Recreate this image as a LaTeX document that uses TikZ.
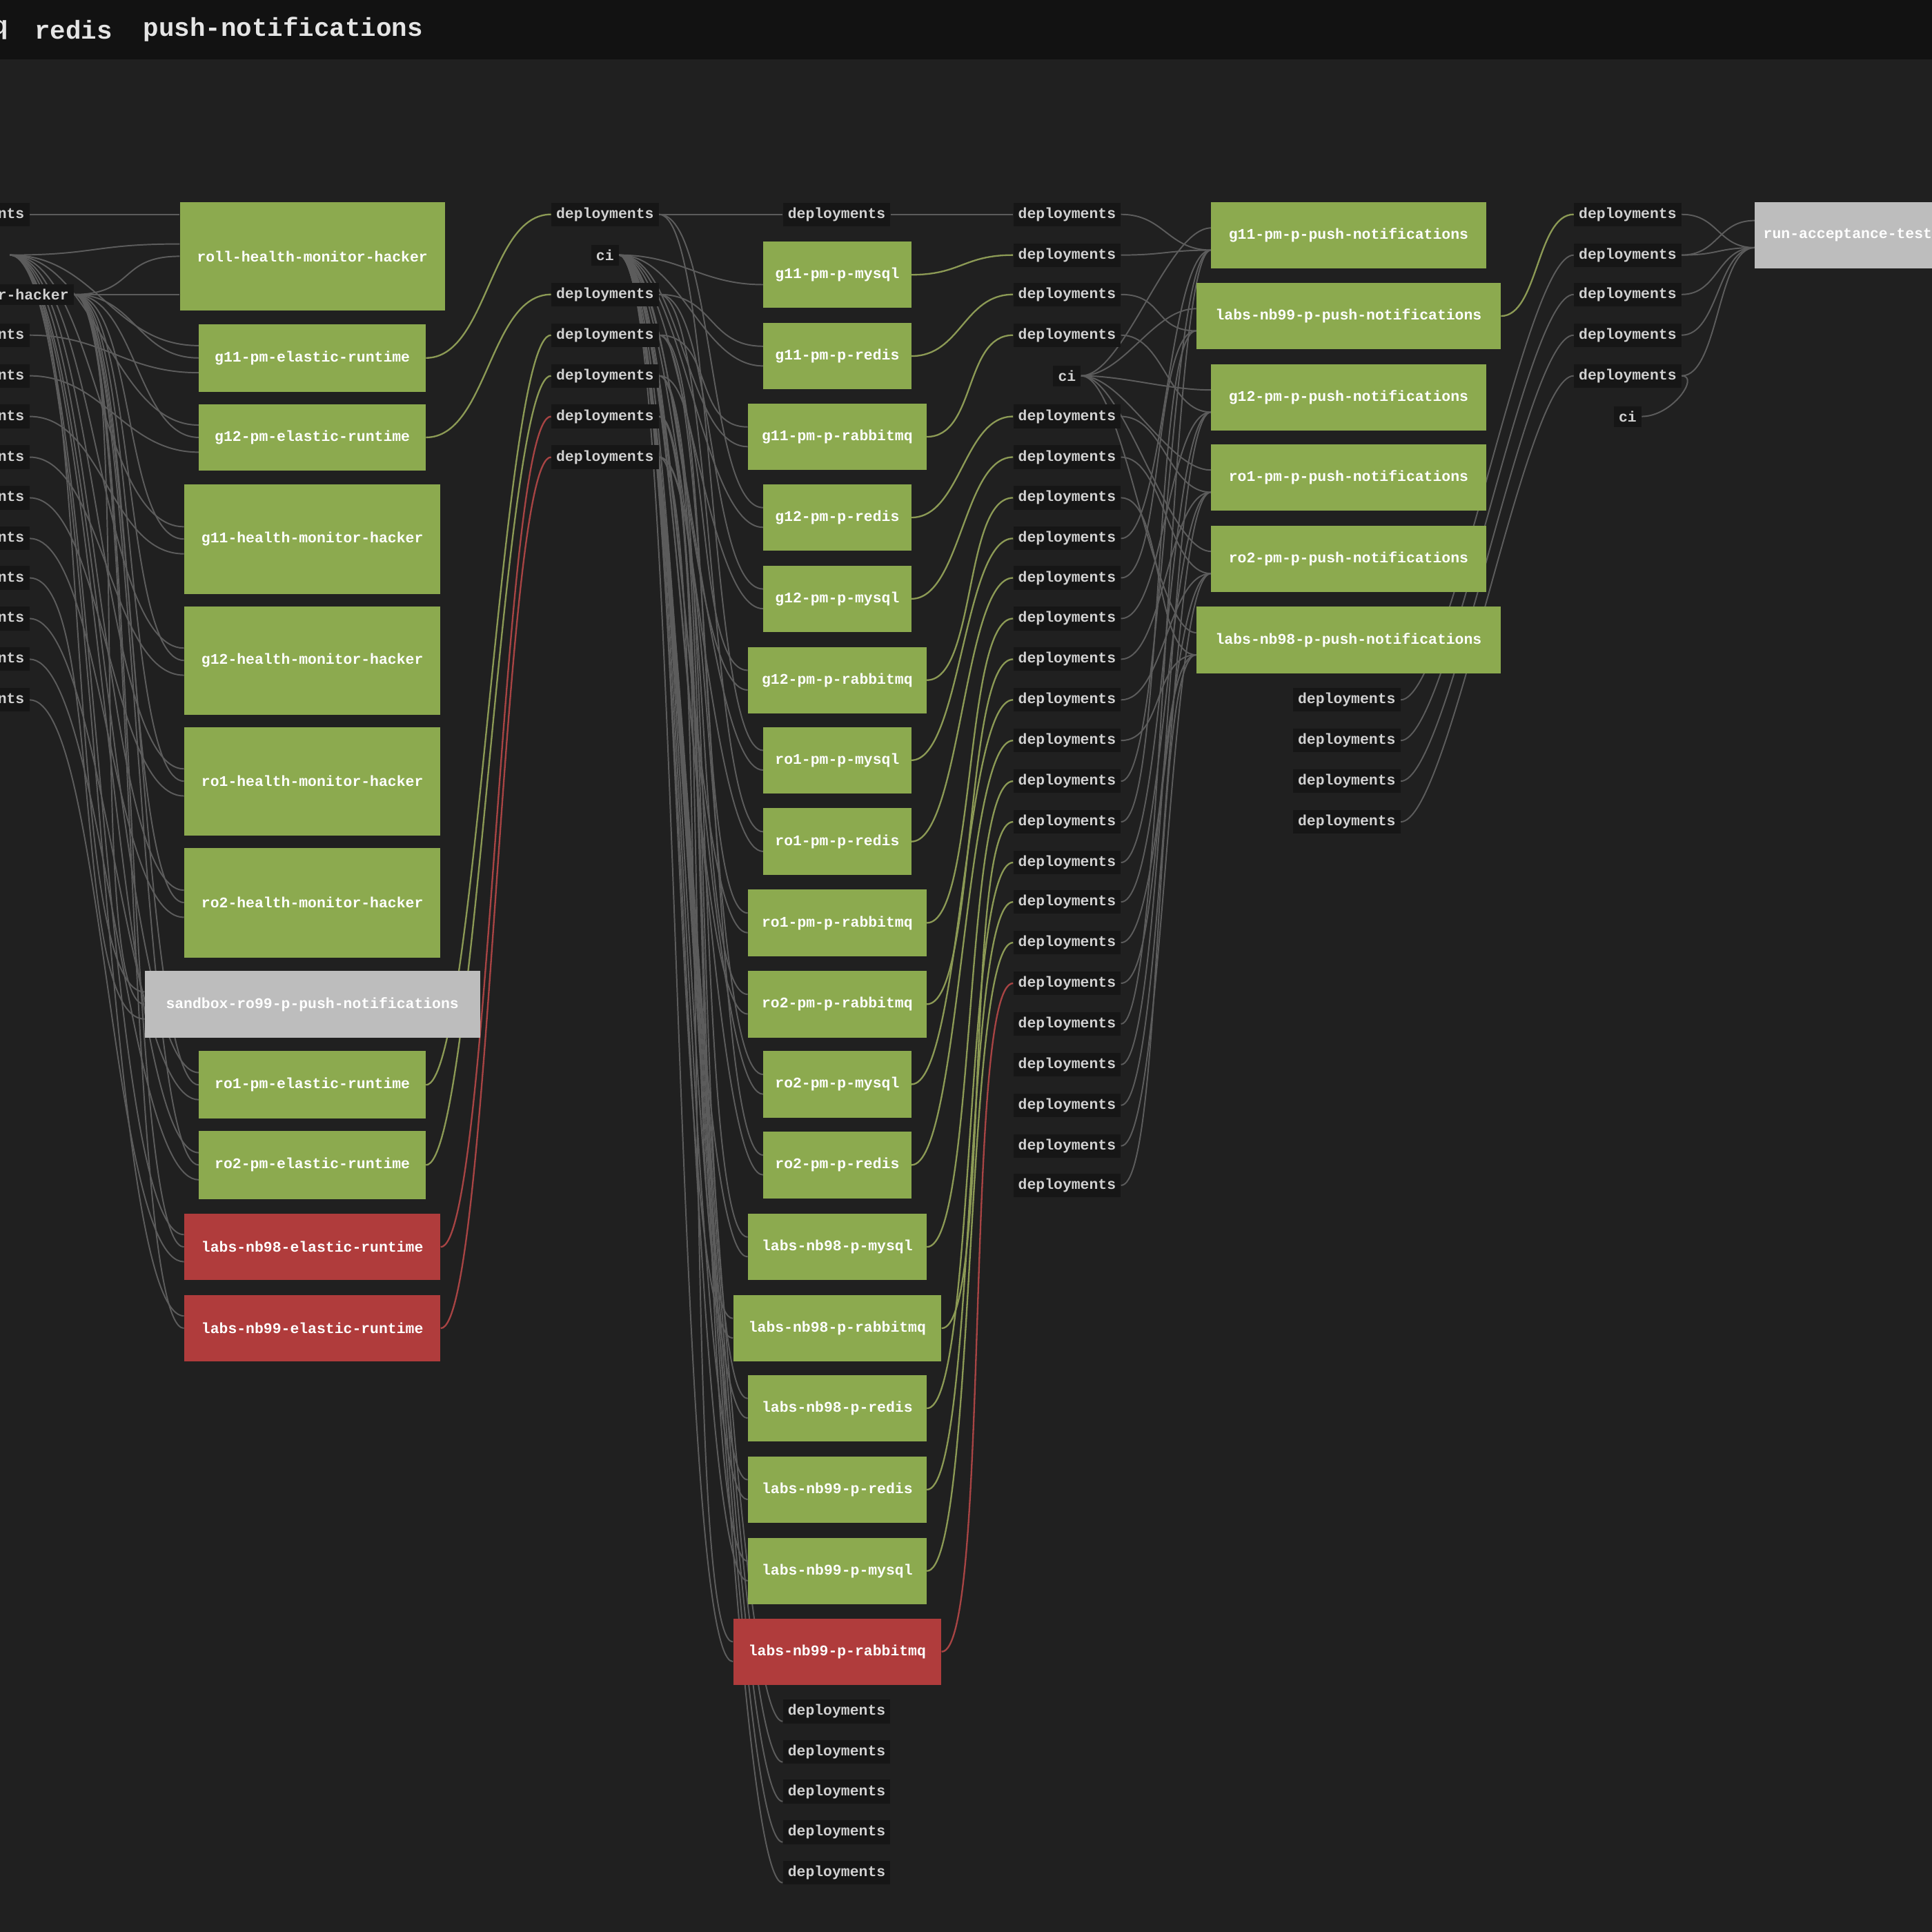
\documentclass[tikz,border=0pt]{standalone}
\usepackage{fontspec}
\newfontfamily\monob{Liberation Mono}[BoldFont={* Bold}]
\usetikzlibrary{backgrounds,calc}
\definecolor{bgc}{HTML}{202020}
\definecolor{barc}{HTML}{121212}
\definecolor{gnode}{HTML}{8CAA4F}
\definecolor{rnode}{HTML}{B03C3C}
\definecolor{ynode}{HTML}{BDBDBD}
\definecolor{lblbg}{HTML}{161616}
\definecolor{ecol}{HTML}{5C5C5C}
\definecolor{egreen}{HTML}{8C9A55}
\definecolor{ered}{HTML}{A84444}
\tikzset{
  box/.style={inner sep=0pt, text=white, font=\monob\bfseries\fontsize{12}{12}\selectfont, minimum height=54pt},
  gbox/.style={box, fill=gnode},
  rbox/.style={box, fill=rnode},
  ybox/.style={box, fill=ynode},
  lbl/.style={fill=lblbg, text=white!82!black, inner xsep=4pt, inner ysep=4pt, font=\monob\bfseries\fontsize{12}{12}\selectfont},
  edg/.style={draw=ecol, line width=1.1pt},
  edgg/.style={draw=egreen, line width=1.3pt},
  edgr/.style={draw=ered, line width=1.3pt},
  hcurve/.style={to path={.. controls ($(\tikztostart)+(#1,0)$) and ($(\tikztotarget)-(#1,0)$) .. (\tikztotarget)}},
}
\begin{document}
\begin{tikzpicture}[x=1pt,y=-1pt]
\useasboundingbox (0,0) rectangle (1568,1568);
\begin{pgfonlayer}{background}
\fill[bgc] (0,0) rectangle (1568,1568);
\fill[barc] (0,0) rectangle (1568,48);
\end{pgfonlayer}
\node[text=white!90!black, font=\monob\bfseries\fontsize{21}{21}\selectfont, anchor=east, inner sep=0] (tq) at (7,24) {q};
\node[text=white!90!black, font=\monob\bfseries\fontsize{21}{21}\selectfont, anchor=west, inner sep=0] (tr) at (28,24) {redis};
\node[text=white!90!black, font=\monob\bfseries\fontsize{21}{21}\selectfont, anchor=west, inner sep=0] (tp) at (116,24) {push-notifications};
% column 1 left labels
\node[lbl, anchor=east] (a0) at (24,174) {deployments};
\node[lbl, anchor=east] (ah) at (60,239) {monitor-hacker};
\foreach \i/\y in {1/272,2/305,3/338,4/371,5/404,6/437,7/469,8/502,9/535,10/568}
  \node[lbl, anchor=east] (a\i) at (24,\y) {deployments};
\coordinate (fan1) at (8,207);
% column 1 nodes
\foreach \n/\y/\w/\h/\s/\t in {
  c1/208/215/88/gbox/roll-health-monitor-hacker,
  c2/290.5/184/55/gbox/g11-pm-elastic-runtime,
  c3/355/184/54/gbox/g12-pm-elastic-runtime,
  c4/437.5/208/89/gbox/g11-health-monitor-hacker,
  c5/536/208/88/gbox/g12-health-monitor-hacker,
  c6/634/208/88/gbox/ro1-health-monitor-hacker,
  c7/732.5/208/89/gbox/ro2-health-monitor-hacker,
  c8/815/272/54/ybox/sandbox-ro99-p-push-notifications,
  c9/880.5/184/55/gbox/ro1-pm-elastic-runtime,
  c10/945.5/184/55/gbox/ro2-pm-elastic-runtime,
  c11/1012/208/54/rbox/labs-nb98-elastic-runtime,
  c12/1078/208/54/rbox/labs-nb99-elastic-runtime}
  \node[\s, minimum width=\w pt, minimum height=\h pt] (\n) at (253.5,\y) {\t};
% column 2 labels
\node[lbl] (b0) at (491,174) {deployments};
\node[lbl] (bci) at (491,207) {ci};
\foreach \i/\y in {1/239,2/272,3/305,4/338,5/371}
  \node[lbl] (b\i) at (491,\y) {deployments};
% column 3
\node[lbl] (e0) at (679,174) {deployments};
\foreach \n/\y/\w/\s/\t in {
  d1/223/120/gbox/g11-pm-p-mysql,
  d2/289/120/gbox/g11-pm-p-redis,
  d3/354.5/145/gbox/g11-pm-p-rabbitmq,
  d4/420/120/gbox/g12-pm-p-redis,
  d5/486/120/gbox/g12-pm-p-mysql,
  d6/552/145/gbox/g12-pm-p-rabbitmq,
  d7/617/120/gbox/ro1-pm-p-mysql,
  d8/683/120/gbox/ro1-pm-p-redis,
  d9/749/145/gbox/ro1-pm-p-rabbitmq,
  d10/815/145/gbox/ro2-pm-p-rabbitmq,
  d11/880/120/gbox/ro2-pm-p-mysql,
  d12/945.5/120/gbox/ro2-pm-p-redis,
  d13/1012/145/gbox/labs-nb98-p-mysql,
  d14/1078/169/gbox/labs-nb98-p-rabbitmq,
  d15/1143/145/gbox/labs-nb98-p-redis,
  d16/1209/145/gbox/labs-nb99-p-redis,
  d17/1275/145/gbox/labs-nb99-p-mysql,
  d18/1340.5/169/rbox/labs-nb99-p-rabbitmq}
  \node[\s, minimum width=\w pt] (\n) at (679.5,\y) {\t};
\foreach \i/\y in {1/1389,2/1422,3/1454,4/1487,5/1520}
  \node[lbl] (eb\i) at (679,\y) {deployments};
% column 4 labels
\node[lbl] (fci) at (866,305) {ci};
\foreach \i/\y in {0/174,1/207,2/239,3/272,4/338,5/371,6/404,7/437,8/469,9/502,10/535,11/568,12/601,13/634,14/667,15/700,16/732,17/765,18/798,19/831,20/864,21/897,22/930,23/962}
  \node[lbl] (f\i) at (866,\y) {deployments};
% column 5
\foreach \n/\y/\w/\t in {
  p1/191/223/g11-pm-p-push-notifications,
  p2/256.5/247/labs-nb99-p-push-notifications,
  p3/322.5/223/g12-pm-p-push-notifications,
  p4/387.5/223/ro1-pm-p-push-notifications,
  p5/453.5/223/ro2-pm-p-push-notifications,
  p6/519.5/247/labs-nb98-p-push-notifications}
  \node[gbox, minimum width=\w pt] (\n) at (1094.5,\y) {\t};
\foreach \i/\y in {1/568,2/601,3/634,4/667}
  \node[lbl] (q\i) at (1093,\y) {deployments};
% column 6
\foreach \i/\y in {0/174,1/207,2/239,3/272,4/305}
  \node[lbl] (r\i) at (1321,\y) {deployments};
\node[lbl] (rci) at (1321,338) {ci};
\node[ybox, anchor=west, inner xsep=7pt] (run) at (1424,191) {run-acceptance-tests\hspace{20pt}};
% ---------- edges ----------
\begin{pgfonlayer}{background}
\draw[edg] (a0.east) -- (a0.east -| c1.west);
\draw[edg] (ah.east) -- (ah.east -| c1.west);
\foreach \i/\n in {1/c2,2/c3,3/c4,4/c5,5/c6,6/c7,7/c8,8/c9,9/c10,10/c11} {
  \draw[edg] (a\i.east) to[hcurve=60pt] ([yshift=-12pt]\n.west);
}
\foreach \n in {c1,c2,c3,c4,c5,c6,c7,c8,c9,c10,c11,c12} {
  \draw[edg] (fan1) to[hcurve=70pt] ([yshift=10pt]\n.west);
  \draw[edg] (ah.east) to[hcurve=50pt] (\n.west);
}
\draw[edgg] (c2.east) to[hcurve=50pt] (b0.west);
\draw[edgg] (c3.east) to[hcurve=50pt] (b1.west);
\draw[edgg] (c9.east) to[hcurve=40pt] (b2.west);
\draw[edgg] (c10.east) to[hcurve=40pt] (b3.west);
\draw[edgr] (c11.east) to[hcurve=40pt] (b4.west);
\draw[edgr] (c12.east) to[hcurve=40pt] (b5.west);
\draw[edg] (b0.east) -- (e0.west);
\foreach \n in {d1,d2,d3,d4,d5,d6,d7,d8,d9,d10,d11,d12,d13,d14,d15,d16,d17,d18,eb1,eb2,eb3,eb4,eb5} {
  \draw[edg] (bci.east) to[hcurve=50pt] ([yshift=-8pt]\n.west);
}
\foreach \b/\n in {b1/d2,b1/d5,b1/d8,b2/d3,b2/d9,b2/d12,b3/d6,b3/d13,b3/d15,b4/d14,b4/d16,b4/d17,b5/d18,b5/d11,b5/d10,b0/d4,b0/d7} {
  \draw[edg] (\b.east) to[hcurve=45pt] ([yshift=8pt]\n.west);
}
\draw[edg] (e0.east) -- (f0.west);
\foreach \k in {1,...,17} {
  \draw[edgg] (d\k.east) to[hcurve=40pt] (f\k.west);
}
\draw[edgr] (d18.east) to[hcurve=40pt] (f18.west);
\foreach \n in {p1,p2,p3,p4,p5,p6} {
  \draw[edg] (fci.east) to[hcurve=35pt] ([yshift=6pt]\n.west);
}
\foreach \k/\n in {0/p1,1/p1,2/p2,3/p3,4/p4,5/p5,6/p6,7/p1,8/p2,9/p3,10/p4,11/p5,12/p6,13/p1,14/p2,15/p3,16/p4,17/p5,18/p6,19/p1,20/p3,21/p4,22/p5,23/p6} {
  \draw[edg] (f\k.east) to[hcurve=35pt] ([yshift=-12pt]\n.west);
}
\draw[edgg] (p2.east) to[hcurve=30pt] (r0.west);
\foreach \i in {1,2,3,4} {
  \draw[edg] (q\i.east) to[hcurve=40pt] (r\i.west);
}
\draw[edg] (rci.east) .. controls ($(rci.east)+(25pt,0)$) and ($(r4.east)+(15pt,0)$) .. (r4.east);
\foreach \i in {0,1,2,3,4} {
  \draw[edg] (r\i.east) to[hcurve=30pt] ([yshift=-10pt]run.west);
}
\draw[edg] (r1.east) to[hcurve=30pt] ([yshift=12pt]run.west);
\end{pgfonlayer}
\end{tikzpicture}
\end{document}
